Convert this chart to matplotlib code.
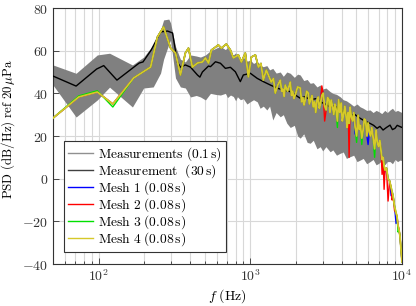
import math
import matplotlib
matplotlib.use("Agg")
import matplotlib.pyplot as plt
from matplotlib.lines import Line2D
from matplotlib.ticker import FuncFormatter, LogLocator, NullFormatter, FixedLocator

plt.rcParams['mathtext.fontset'] = 'cm'
plt.rcParams['font.family'] = ['DejaVu Serif']

# ---- data ----
band_f = [50, 71, 98, 118, 167, 198, 229, 256, 268, 290, 298, 321, 346, 373, 403, 440, 469, 506,
          546, 589, 635, 685, 707, 740, 773, 800, 822, 860, 899, 950, 1000, 1050, 1111, 1160, 1218,
          1285, 1340, 1406, 1480, 1575, 1650, 1740, 1833, 1950, 2050, 2133, 2250, 2370, 2482, 2600,
          2750, 2888, 3000, 3150, 3360, 3500, 3700, 3909, 4100, 4300, 4548, 4800, 5050, 5292, 5550,
          5850, 6157, 6450, 6750, 7040, 7350, 7700, 8000, 8340, 8650, 9000, 9350, 9700, 10000]
band_hi = [53.3, 49.4, 58, 58.8, 53.3, 57, 62.7, 69.7, 74.4, 74.8, 73, 62, 56, 54.7, 58, 57.5, 57, 58,
           60, 61, 62, 60.5, 61.5, 59, 58, 59, 57.2, 56, 57, 55, 55.6, 54, 55, 53, 52.5,
           53, 51, 51.7, 49.5, 50, 48, 50, 49.4, 47.5, 49, 48.6, 46, 46.5, 44.7, 45,
           43, 43.9, 42, 42.5, 40.8, 40, 39.5, 38.4, 37, 36.5, 35.3, 34, 35, 33.7, 33,
           32, 32.2, 31, 32, 31.4, 30.5, 32, 31, 32.2, 33, 31.5, 32, 31.4, 31]
band_lo = [43.9, 28.9, 36.9, 42.9, 33.6, 42.5, 43, 49.5, 56, 63, 65, 47.2, 43, 42.5, 38.3, 39, 38.3, 36.9,
           40, 39.5, 39.2, 40, 38, 39.2, 38.5, 36.5, 38.4, 37, 37.5, 35, 36.1, 37, 36, 33, 34,
           32.2, 34, 27.5, 31, 29, 30, 26, 24, 25, 20, 19, 21, 17, 16.6, 18,
           14, 15, 13, 15, 12.6, 13.5, 11, 11.9, 12.5, 9.5, 10.3, 11, 8, 8.7, 9.5,
           7, 8, 9, 6.5, 7.2, 8.5, 6.5, 8, 8, 7, 9, 8, 8.7, 8.5]

meas_f = [50, 71, 97, 108, 132, 185, 196, 222, 256, 284, 307, 330, 346, 373, 403, 448, 465, 483,
          530, 546, 589, 635, 685, 739, 797, 859, 899, 1000, 1111, 1218, 1355, 1506, 1649, 1833,
          2000, 2133, 2300, 2482, 2700, 2888, 3100, 3360, 3600, 3909, 4200, 4548, 4900, 5292,
          5700, 6157, 6500, 6850, 7150, 7500, 7900, 8340, 8650, 8990, 9300, 9700, 10000]
meas_30s = [48.1, 43.4, 51.4, 53, 46.2, 54.2, 54.7, 60.3, 68.8, 69.2, 68.3, 54.7, 52.3, 53.3, 52.3, 48.6,
            47.6, 50, 52.8, 52.5, 54.8, 54.1, 51.7, 52.2, 50.1, 45.5, 48.6, 49.4, 47, 45.5, 43.9,
            42.4, 41.6, 40.8, 39, 37.7, 38.5, 36.9, 37.5, 36.1, 35, 33.7, 34, 32.2, 31, 29.8, 30,
            28.3, 27, 25.9, 25, 23.6, 24.5, 22.8, 24, 25.1, 23, 23.6, 25, 24.4, 24]

mesh_f = [50, 74, 98, 124, 170, 220, 244, 268, 298, 321,
          346, 373, 391, 415, 448, 483, 506, 530, 554, 585,
          615, 644, 695, 739, 773, 834, 873, 927, 971, 1015,
          1080, 1130, 1175, 1218, 1274, 1374, 1420,
          1460, 1520, 1575, 1610, 1640, 1670, 1699, 1760, 1833, 1870,
          1900, 1940, 1977, 2050, 2133, 2180, 2220, 2260, 2301, 2350,
          2410, 2450, 2500, 2550, 2597, 2650, 2700, 2750, 2801, 2850,
          2900, 2960, 3021, 3090, 3162, 3230, 3300, 3350, 3411, 3480,
          3550, 3610, 3680, 3750, 3820, 3890, 3970, 4040, 4120, 4200,
          4282, 4350, 4420, 4480, 4548, 4630, 4720, 4810, 4906, 5020,
          5140, 5230, 5320, 5430, 5540, 5650, 5760, 5870, 5976, 6090,
          6200, 6320, 6447, 6600, 6746, 6870, 7000, 7140, 7277, 7390,
          7500, 7620, 7730, 7900, 8093, 8280, 8476, 8600, 8730, 8930,
          9140, 9280, 9420, 9560, 9700, 9850, 10000]
mesh4 = [28.4, 38.3, 40.6, 35.0, 47.2, 52.3, 66.4, 71.1, 61.2, 58.9,
         48.6, 58.9, 61.2, 52.3, 54.2, 54.7, 56.6, 54.2, 60.3, 61.5,
         62.7, 61.2, 63.1, 60.3, 56.6, 58, 54.7, 58.9, 47.7, 57,
         58, 52.3, 54, 46.2, 50.9, 45.3, 47,
         40.1, 44, 46.2, 41, 42, 38.5, 43.9, 41, 45.3, 39,
         41, 37.5, 39.2, 43, 42.5, 36, 38, 34.5, 36.9, 41,
         40.1, 35, 37, 39, 33.6, 36, 31, 37, 38.3, 33,
         35, 39, 40.1, 34, 32.2, 38, 37, 31, 36.9, 34,
         30, 35, 32.2, 27, 37, 31, 35.5, 27, 30, 34,
         28.9, 24, 31, 26, 33.6, 29, 27, 31, 24.2, 20,
         29.8, 23, 25, 19, 22.8, 28, 27, 20, 26.1, 22,
         20, 24, 19.5, 14, 22.8, 17, 15, 18, 13, 9,
         10, 6, 4, 5, 0, -1, -4, -6, -8, -13,
         -16, -18, -22, -24, -27, -33, -39]
mesh1 = [28.4, 38.3, 40.6, 35.0, 47.2, 52.3, 66.4, 71.1, 61.2, 58.9,
         48.6, 58.9, 61.2, 52.3, 54.2, 54.7, 56.6, 54.2, 60.3, 61.5,
         62.7, 61.2, 63.1, 60.3, 56.6, 58, 54.7, 58.9, 47.7, 57,
         58, 52.3, 54, 46.2, 50.9, 45.3, 47,
         40.1, 44, 46.2, 41, 42, 38.5, 43.9, 41, 45.3, 39,
         41, 37.5, 39.2, 43, 42.5, 36, 38, 34.5, 36.9, 41,
         40.1, 35, 37, 39, 33.6, 36, 31, 37, 38.3, 33,
         35, 42, 40.1, 34, 32.2, 38, 37, 31, 36.9, 34,
         30, 35, 32.2, 27, 37, 31, 35.5, 27, 30, 34,
         28.9, 24, 31, 26, 33.6, 29, 27, 31, 21, 20,
         29.8, 23, 25, 19, 22.8, 28, 27, 20, 16, 22,
         20, 24, 19.5, 14, 22.8, 17, 15, 18, 13, 9,
         10, 1, 4, 5, 0, -1, -8, -6, -8, -13,
         -21, -18, -22, -24, -27, -33, -39]
mesh2 = [28.4, 38.3, 40.6, 35.0, 47.2, 52.3, 66.4, 71.1, 61.2, 58.9,
         48.6, 58.9, 61.2, 52.3, 54.2, 54.7, 56.6, 54.2, 60.3, 61.5,
         62.7, 61.2, 63.1, 60.3, 56.6, 58, 54.7, 58.9, 47.7, 57,
         58, 52.3, 54, 46.2, 50.9, 45.3, 47,
         40.1, 44, 46.2, 41, 42, 38.5, 43.9, 41, 45.3, 39,
         41, 37.5, 39.2, 43, 42.5, 36, 38, 34.5, 36.9, 41,
         40.1, 35, 37, 39, 33.6, 36, 31, 37, 38.3, 33,
         35, 43.5, 40.1, 27, 32.2, 38, 37, 31, 36.9, 34,
         30, 35, 32.2, 27, 37, 31, 35.5, 27, 30, 34,
         28.9, 24, 31, 10, 33.6, 29, 27, 31, 24.2, 20,
         29.8, 23, 25, 19, 22.8, 28, 27, 20, 26.1, 22,
         20, 24, 19.5, 14, 22.8, 17, 15, 18, 13, 2,
         10, -5, 4, 5, -10.5, -1, -4, -10, -8, -15,
         -16, -18, -22, -24, -27, -33, -39]
mesh3 = [28.4, 38.8, 41.2, 33.6, 47.2, 52.3, 66.4, 71.1, 61.2, 58.9,
         48.6, 58.9, 61.2, 52.3, 54.2, 54.7, 56.6, 54.2, 60.3, 61.5,
         62.7, 61.2, 63.1, 60.3, 56.6, 58, 54.7, 58.9, 47.7, 57,
         58, 52.3, 54, 46.2, 50.9, 45.3, 47,
         40.1, 44, 46.2, 41, 42, 38.5, 43.9, 41, 45.3, 39,
         41, 37.5, 39.2, 43, 42.5, 36, 38, 34.5, 36.9, 41,
         40.1, 35, 37, 39, 33.6, 36, 31, 37, 38.3, 33,
         35, 39, 40.1, 34, 32.2, 38, 37, 31, 36.9, 34,
         30, 35, 32.2, 24, 37, 31, 35.5, 27, 30, 34,
         28.9, 24, 31, 26, 33.6, 29, 27, 31, 24.2, 17,
         29.8, 23, 25, 16, 22.8, 28, 27, 20, 26.1, 22,
         20, 24, 19.5, 10, 22.8, 17, 15, 18, 13, 9,
         10, 6, 4, 5, 0, -1, -4, -6, -8, -13,
         -16, -18, -25, -24, -27, -33, -39]

labels = [r'$\mathrm{Measurements\ (0.1\,s)}$', r'$\mathrm{Measurement\ \ (30\,s)}$',
          r'$\mathrm{Mesh\ 1\ (0.08\,s)}$', r'$\mathrm{Mesh\ 2\ (0.08\,s)}$',
          r'$\mathrm{Mesh\ 3\ (0.08\,s)}$', r'$\mathrm{Mesh\ 4\ (0.08\,s)}$']
mesh_colors = ['#0000ff', '#ff0000', '#00e000', '#d6c829']
mesh_widths = [1.0, 1.0, 1.0, 1.3]

# ---- figure ----
fig = plt.figure(figsize=(4.16, 3.06), dpi=100)
ax = fig.add_axes([53/416, 1-264/306, 349/416, 256/306])

ax.fill_between(band_f, band_lo, band_hi, color='#808080', lw=0, zorder=2)
ax.plot(meas_f, meas_30s, color='black', lw=1.0, zorder=3)
for ys, c, w in zip([mesh1, mesh2, mesh3, mesh4], mesh_colors, mesh_widths):
    ax.plot(mesh_f, ys, color=c, lw=w, zorder=4)

ax.set_xscale('log')
ax.set_xlim(50, 10000)
ax.set_ylim(-40, 80)
ax.xaxis.set_major_locator(FixedLocator([100, 1000, 10000]))
ax.xaxis.set_minor_locator(LogLocator(base=10, subs=range(2, 10), numticks=20))
ax.xaxis.set_minor_formatter(NullFormatter())
ax.xaxis.set_major_formatter(FuncFormatter(lambda v, p: r'$10^{%d}$' % round(math.log10(v))))
ax.yaxis.set_major_locator(FixedLocator([-40, -20, 0, 20, 40, 60, 80]))
ax.yaxis.set_major_formatter(FuncFormatter(lambda v, p: r'$%d$' % v))

ax.grid(True, which='major', color='#d8d8d8', lw=0.8, zorder=0)
ax.grid(True, which='minor', axis='x', color='#d8d8d8', lw=0.8, zorder=0)
ax.set_axisbelow(True)
ax.tick_params(which='both', direction='in', labelsize=10, colors='#333333', width=0.6)
ax.tick_params(which='major', length=4)
ax.tick_params(which='minor', length=2.5)
for s in ax.spines.values():
    s.set_color('#333333')
    s.set_linewidth(0.8)

ax.set_xlabel(r'$f\ \mathrm{(Hz)}$', fontsize=10, labelpad=2)
ax.set_ylabel(r'$\mathrm{PSD\ (dB/Hz)\ ref\ 20\,\mu Pa}$', fontsize=9.3)
ax.yaxis.set_label_coords(-0.102, 0.527)

handles = [Line2D([], [], color='#909090', lw=1.0), Line2D([], [], color='#404040', lw=1.0)] + \
          [Line2D([], [], color=c, lw=1.0) for c in mesh_colors]
leg = ax.legend(handles, labels, loc='lower left', bbox_to_anchor=(11/349, 12/256),
                borderaxespad=0, fontsize=9.7, handlelength=1.85, handletextpad=0.35,
                labelspacing=-0.06, borderpad=0.3, fancybox=False, framealpha=1,
                edgecolor='#333333')
leg.get_frame().set_linewidth(0.8)
leg.set_zorder(10)

fig.savefig('out.png', dpi=100)
